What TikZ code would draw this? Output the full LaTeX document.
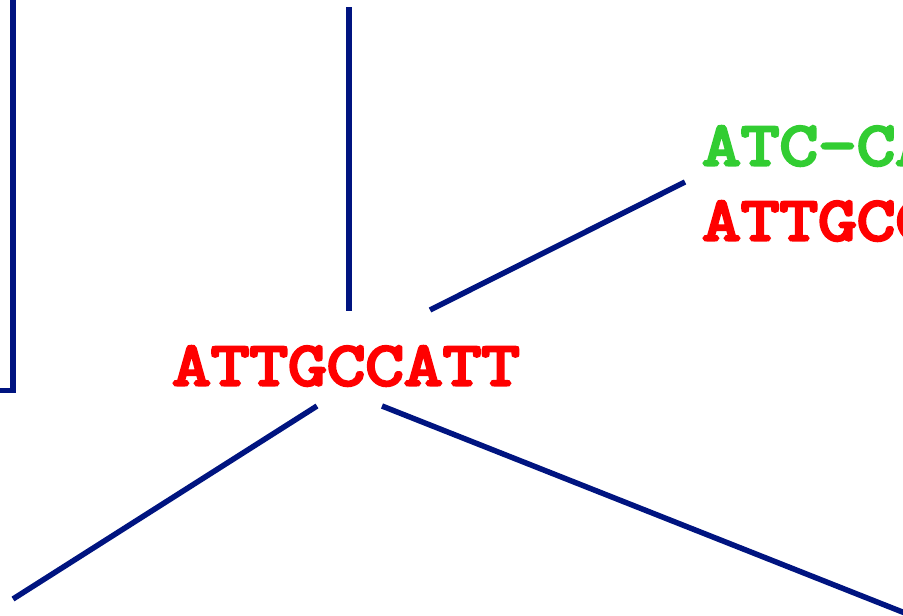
\documentclass[tikz,border=0pt]{standalone}
\usepackage{fontspec}
\newfontfamily\seqfont[FakeBold=5,FakeStretch=1.21]{Latin Modern Mono}
\definecolor{branch}{RGB}{0,20,128}
\definecolor{seqred}{RGB}{255,0,0}
\definecolor{seqgreen}{RGB}{50,205,50}
\tikzset{
  edge/.style={draw=branch, line width=5.5pt, line cap=butt},
  seq/.style={inner sep=0pt, anchor=base west, font=\seqfont\fontsize{62}{62}\selectfont},
}
\begin{document}
\begin{tikzpicture}[x=1pt,y=-1pt]
  \useasboundingbox (0,0) rectangle (903,616);
  \clip (0,0) rectangle (903,616);
  % sequence labels
  \node[seq, text=seqred] (root) at (172,385) {ATTGCCATT};
  \node[seq, text=seqgreen] (up) at (702,165) {ATC-CATT};
  \node[seq, text=seqred] (upseq) at (702,240) {ATTGCCATT};
  % branch end points
  \coordinate (leftTop) at (13,-5);
  \coordinate (leftBot) at (13,390.5);
  \coordinate (leftTick) at (-2,390.5);
  \coordinate (midTop) at (349,7);
  \coordinate (midBot) at (349,311);
  \coordinate (urA) at (430,310);
  \coordinate (urB) at (685,182);
  \coordinate (llA) at (317,406);
  \coordinate (llB) at (13,599);
  \coordinate (lrA) at (382,406);
  \coordinate (lrB) at (910,615);
  % branches
  \draw[edge] (leftTop) -- (leftBot) -- (leftTick);
  \draw[edge] (midTop) -- (midBot);
  \draw[edge] (urA) -- (urB);
  \draw[edge] (llA) -- (llB);
  \draw[edge] (lrA) -- (lrB);
\end{tikzpicture}
\end{document}
